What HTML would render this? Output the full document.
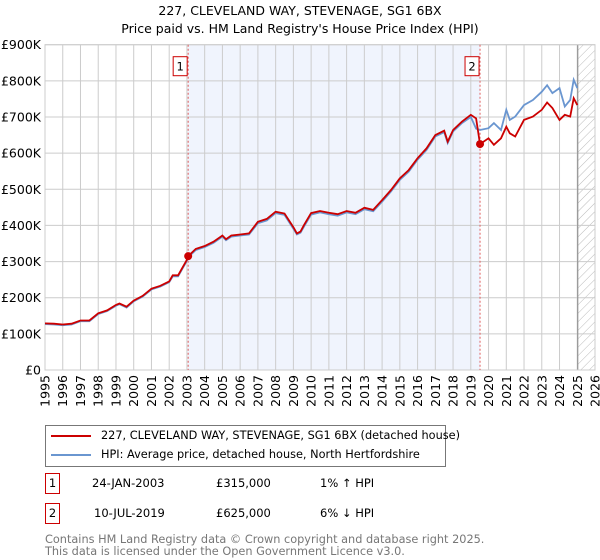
<!DOCTYPE html>
<html><head><meta charset="utf-8"><style>
body{margin:0;background:#fff;font-family:"DejaVu Sans","Liberation Sans",sans-serif;}
#wrap{position:relative;width:600px;height:560px;overflow:hidden;}
.t{position:absolute;font-size:11.5px;color:#000;white-space:nowrap;}
svg text{font-family:"DejaVu Sans","Liberation Sans",sans-serif;}
</style></head><body>
<div id="wrap">
<svg id="chart" width="600" height="420" style="position:absolute;left:0;top:0"></svg>
<div style="position:absolute;left:45px;top:425px;width:401px;height:42px;border:1px solid #777;box-sizing:border-box;">
  <div style="position:absolute;left:5px;top:3px;font-size:11.3px;white-space:nowrap;"><span style="display:inline-block;width:40px;height:2px;background:#cc0000;vertical-align:middle;margin-right:10px"></span>227, CLEVELAND WAY, STEVENAGE, SG1 6BX (detached house)</div>
  <div style="position:absolute;left:5px;top:22px;font-size:11.3px;white-space:nowrap;"><span style="display:inline-block;width:40px;height:2px;background:#6a96d0;vertical-align:middle;margin-right:10px"></span>HPI: Average price, detached house, North Hertfordshire</div>
</div>
<div>
<div class="t" style="left:45px;top:473px;width:15px;height:21px;border:1px solid #c00;box-sizing:border-box;text-align:center;line-height:19px;">1</div>
<div class="t" style="left:92px;top:476px;">24-JAN-2003</div>
<div class="t" style="left:216px;top:476px;">£315,000</div>
<div class="t" style="left:320px;top:476px;">1% ↑ HPI</div>
</div>
<div>
<div class="t" style="left:45px;top:503px;width:15px;height:21px;border:1px solid #c00;box-sizing:border-box;text-align:center;line-height:19px;">2</div>
<div class="t" style="left:94px;top:506px;">10-JUL-2019</div>
<div class="t" style="left:216px;top:506px;">£625,000</div>
<div class="t" style="left:320px;top:506px;">6% ↓ HPI</div>
</div>
<div class="t" style="left:45px;top:534px;font-size:11.3px;color:#777;line-height:11.5px">Contains HM Land Registry data © Crown copyright and database right 2025.<br>This data is licensed under the Open Government Licence v3.0.</div>
</div>
<script>
const years=[1995,1995.5,1996,1996.5,1997,1997.5,1998,1998.5,1999,1999.2,1999.6,2000,2000.5,2001,2001.5,2002,2002.2,2002.5,2003,2003.07,2003.5,2004,2004.5,2005,2005.2,2005.5,2006,2006.5,2007,2007.5,2008,2008.5,2009,2009.2,2009.4,2009.6,2010,2010.5,2011,2011.5,2012,2012.5,2013,2013.5,2014,2014.5,2015,2015.5,2016,2016.5,2017,2017.5,2017.7,2018,2018.5,2019,2019.3,2019.52,2020,2020.3,2020.7,2021,2021.2,2021.5,2022,2022.5,2023,2023.3,2023.6,2024,2024.3,2024.6,2024.8,2025];
const priceK=[129,128,126,128,137,137,157,165,180,184,175,192,205,225,233,245,262,262,305,315,335,343,355,372,362,372,375,378,410,418,438,433,395,378,383,401,434,440,435,431,440,435,449,443,470,498,530,553,586,613,650,662,632,664,687,706,696,625,641,623,641,673,655,646,692,701,720,740,725,692,706,701,752,733];
const hpiK=[127,126,124,126,135,135,155,163,178,182,173,190,203,223,231,243,259,259,302,312,332,340,352,369,359,369,372,375,406,414,434,429,391,375,380,397,430,436,431,427,436,431,445,439,466,494,526,549,582,609,646,658,628,660,683,700,668,664,669,683,664,720,692,701,733,747,770,788,766,780,729,747,803,780];
const yTicks=[0,100,200,300,400,500,600,700,800,900];
const yTickLabels=["£0","£100K","£200K","£300K","£400K","£500K","£600K","£700K","£800K","£900K"];
const xTicks=[1995,1996,1997,1998,1999,2000,2001,2002,2003,2004,2005,2006,2007,2008,2009,2010,2011,2012,2013,2014,2015,2016,2017,2018,2019,2020,2021,2022,2023,2024,2025,2026];
const saleYears=[2003.07,2019.52];
const salePricesK=[315,625];
const saleLabels=["1","2"];
const dataEndYear=2025.03;

const L=45,R=595,T=44.7,B=370;
const x=v=>L+(v-1995)/(2026-1995)*(R-L);
const y=v=>B-v/900*(B-T);
const svg=document.getElementById('chart');
const NS='http://www.w3.org/2000/svg';
function mk(tag,attrs,parent){const e=document.createElementNS(NS,tag);for(const k in attrs)e.setAttribute(k,attrs[k]);(parent||svg).appendChild(e);return e;}
const defs=mk('defs',{});
const pat=mk('pattern',{id:'hatch',width:6,height:6,patternUnits:'userSpaceOnUse',patternTransform:'rotate(45)'},defs);
mk('line',{x1:0,y1:0,x2:0,y2:6,stroke:'#bbb','stroke-width':1},pat);

const shade=mk('rect',{x:x(saleYears[0]),y:T,width:x(saleYears[1])-x(saleYears[0]),height:B-T,fill:'#f0f4fd'});


const hatch=mk('rect',{x:x(dataEndYear),y:T,width:R-x(dataEndYear),height:B-T,fill:'url(#hatch)'});



yTicks.forEach((v,i)=>{
  const g=mk('line',{x1:L,x2:R,y1:y(v),y2:y(v),stroke:'#ccc','stroke-width':1});
  
  
  const t=mk('text',{x:L-4,y:y(v)+4.5,'text-anchor':'end','font-size':12.5,fill:'#000'});
  t.textContent=yTickLabels[i];
  
  
});
xTicks.forEach(v=>{
  const g=mk('line',{x1:x(v),x2:x(v),y1:T,y2:B,stroke:'#ccc','stroke-width':1});
  
  
  const t=mk('text',{x:0,y:0,'text-anchor':'end','font-size':12.5,fill:'#000',transform:`translate(${x(v)+4.5},${B+5}) rotate(-90)`});
  t.textContent=v;
  
  
});
const endLine=mk('line',{x1:x(dataEndYear),x2:x(dataEndYear),y1:T,y2:B,stroke:'#888','stroke-width':1});


const frame=mk('rect',{x:L,y:T,width:R-L,height:B-T,fill:'none',stroke:'#ccc'});



saleYears.forEach((s,i)=>{
  const d=mk('line',{x1:x(s),x2:x(s),y1:T,y2:B,stroke:'#e06060','stroke-width':1,'stroke-dasharray':'2,2'});
  
  
  const bx=mk('rect',{x:x(s)-15,y:T+12,width:14,height:19,fill:'#fff',stroke:'#c00'});
  
  
  const bt=mk('text',{x:x(s)-8,y:T+26,'text-anchor':'middle','font-size':11.5});
  bt.textContent=saleLabels[i];
  
  
});

const pts=a=>a.map((v,i)=>x(years[i]).toFixed(1)+','+y(v).toFixed(1)).join(' ');
const hl=mk('polyline',{points:pts(hpiK),fill:'none',stroke:'#6a96d0','stroke-width':1.8});


const pl=mk('polyline',{points:pts(priceK),fill:'none',stroke:'#cc0000','stroke-width':1.8});


saleYears.forEach((s,i)=>{
  const c=mk('circle',{cx:x(s),cy:y(salePricesK[i]),r:4,fill:'#cc0000'});
  
  
});
const t1=mk('text',{x:300,y:15,'text-anchor':'middle','font-size':12.5});
t1.textContent="227, CLEVELAND WAY, STEVENAGE, SG1 6BX";


const t2=mk('text',{x:300,y:33,'text-anchor':'middle','font-size':12.5});
t2.textContent="Price paid vs. HM Land Registry's House Price Index (HPI)";


</script>
</body></html>
